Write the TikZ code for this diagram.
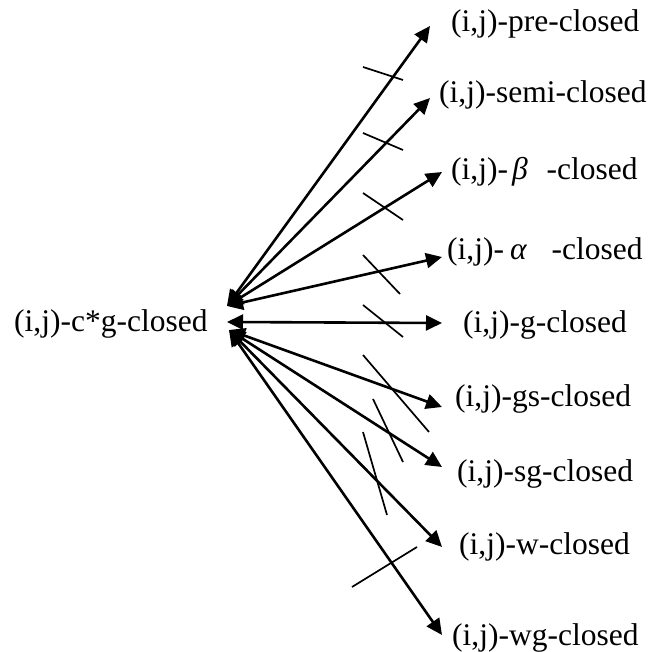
\documentclass[tikz,border=0pt]{standalone}
\usepackage{fontspec}
\setmainfont{Liberation Serif}
\usetikzlibrary{arrows.meta}
\tikzset{
  lbl/.style={anchor=base west, inner sep=0pt, font=\fontsize{31.5}{36}\selectfont},
  imp/.style={line width=2.6pt, {Triangle[length=16pt,width=15pt]}-{Triangle[length=16pt,width=15pt]}},
  slash/.style={line width=1.7pt}
}
\begin{document}
\begin{tikzpicture}[x=1pt,y=-1pt]
\useasboundingbox (0,0) rectangle (665,652);
% hub
\node[lbl] (hub) at (14,332) {(i,j)-c*g-closed};
\coordinate (hu) at (227,306);
\coordinate (hm) at (227,322);
\coordinate (hl) at (229,330);
% targets
\node[lbl] (pre)  at (451,32)  {(i,j)-pre-closed};
\node[lbl] (semi) at (439,103) {(i,j)-semi-closed};
\node[lbl] (beta) at (451,180) {(i,j)-\hspace{4pt}{\itshape β}\hspace{19pt}-closed};
\node[lbl] (alph) at (447,260) {(i,j)-\hspace{6pt}{\itshape α}\hspace{25pt}-closed};
\node[lbl] (g)    at (463,333) {(i,j)-g-closed};
\node[lbl] (gs)   at (455,407) {(i,j)-gs-closed};
\node[lbl] (sg)   at (457,482) {(i,j)-sg-closed};
\node[lbl] (w)    at (459,555) {(i,j)-w-closed};
\node[lbl] (wg)   at (452,645) {(i,j)-wg-closed};
% tip coordinates
\coordinate (tpre)  at (430,26);
\coordinate (tsemi) at (430,98);
\coordinate (tbeta) at (442,172);
\coordinate (talph) at (442,257);
\coordinate (tg)    at (442,323);
\coordinate (tgs)   at (442,407);
\coordinate (tsg)   at (442,467);
\coordinate (tw)    at (442,547);
\coordinate (twg)   at (442,635);
% connectors
\draw[imp] (hu) -- (tpre);
\draw[imp] (hu) -- (tsemi);
\draw[imp] (hu) -- (tbeta);
\draw[imp] (hu) -- (talph);
\draw[imp] (hm) -- (tg);
\draw[imp] (hl) -- (tgs);
\draw[imp] (hl) -- (tsg);
\draw[imp] (hl) -- (tw);
\draw[imp] (hl) -- (twg);
% slashes
\draw[slash] (363,67) -- (403,80);
\draw[slash] (363,133) -- (403,150);
\draw[slash] (363,193) -- (403,220);
\draw[slash] (363,255) -- (400,294);
\draw[slash] (363,305) -- (403,337);
\draw[slash] (363,355) -- (429,432);
\draw[slash] (373,399) -- (403,462);
\draw[slash] (363,432) -- (387,515);
\draw[slash] (352,587) -- (417,547);
\end{tikzpicture}
\end{document}
